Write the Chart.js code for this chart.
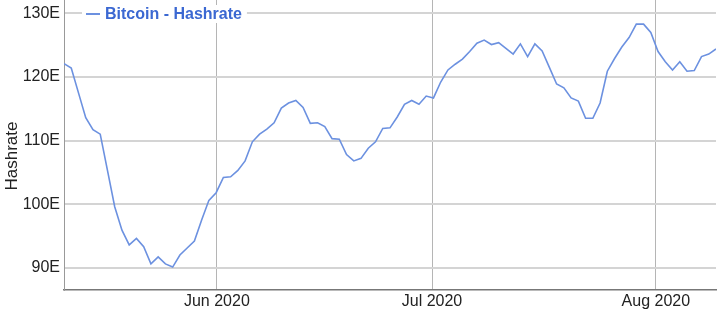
<!DOCTYPE html>
<html>
<head>
<meta charset="utf-8">
<script src="https://cdn.jsdelivr.net/npm/chart.js@4/dist/chart.umd.min.js"></script>
<style>
  html, body { margin: 0; padding: 0; background: #fff; }
  #wrap { width: 720px; height: 313px; }
</style>
</head>
<body>
<div id="wrap"><canvas id="hashrate-chart"></canvas></div>
<script>
// daily values from May 11 2020 (day 0) to Aug 9 2020 (day 90), in EH/s
const hashrate = [
    122.1, 121.4, 117.5, 113.6, 111.7, 111.0, 105.3, 99.6, 95.9, 93.6,
    94.6, 93.3, 90.6, 91.7, 90.6, 90.1, 92.0, 93.1, 94.2, 97.5,
    100.6, 101.8, 104.2, 104.3, 105.3, 106.8, 109.8, 111.0, 111.8, 112.8,
    115.1, 115.9, 116.3, 115.2, 112.7, 112.8, 112.2, 110.3, 110.2, 107.8,
    106.8, 107.2, 108.8, 109.8, 111.9, 112.0, 113.7, 115.7, 116.3, 115.7,
    117.0, 116.7, 119.2, 121.1, 122.0, 122.8, 124.0, 125.3, 125.8, 125.1,
    125.4, 124.5, 123.6, 125.2, 123.2, 125.2, 124.1, 121.5, 118.9, 118.3,
    116.7, 116.2, 113.5, 113.5, 115.9, 120.9, 122.9, 124.7, 126.2, 128.3,
    128.3, 127.0, 124.0, 122.4, 121.1, 122.4, 120.9, 121.0, 123.2, 123.6,
    124.4
];
const days = hashrate.map((v, i) => i);

// month ticks, as day offsets from the first point
const monthTickDays = [21.1, 50.8, 81.7];
const monthTickLabels = ["Jun 2020", "Jul 2020", "Aug 2020"];
const yTickValues = [90, 100, 110, 120, 130];

const seriesLabel = "Bitcoin - Hashrate";
const lineColor = "#6c91e0";
const legendColor = "#3b68d2";
const font = "'Liberation Sans', Arial, sans-serif";

const overlayText = {
    id: "overlayText",
    afterDraw(chart) {
        const c = chart.ctx;
        const area = chart.chartArea;
        c.save();
        // axis title
        c.fillStyle = "#222";
        c.font = "17px " + font;
        c.textAlign = "center";
        c.textBaseline = "middle";
        c.translate(12, 156);
        c.rotate(-Math.PI / 2);
        c.fillText("Hashrate", 0, 0);
        c.restore();

        // legend box on top of the plot
        c.save();
        c.font = "bold 16px " + font;
        const w = c.measureText(seriesLabel).width;
        const x0 = area.left + 21;
        const y0 = 14;
        c.fillStyle = "#fff";
        c.fillRect(x0 - 3, y0 - 9, w + 28, 18);
        c.strokeStyle = lineColor;
        c.lineWidth = 2;
        c.beginPath();
        c.moveTo(x0 + 1, y0);
        c.lineTo(x0 + 15, y0);
        c.stroke();
        c.fillStyle = legendColor;
        c.textBaseline = "middle";
        c.fillText(seriesLabel, x0 + 20, y0 + 1);
        c.restore();
    }
};

const ctx = document.getElementById("hashrate-chart").getContext("2d");
const chart = new Chart(ctx, {
    type: "line",
    data: {
        labels: days,
        datasets: [{
            label: seriesLabel,
            data: days.map((d, i) => ({x: d, y: hashrate[i]})),
            borderColor: lineColor,
            borderWidth: 1.6,
            pointRadius: 0,
            tension: 0,
            fill: false,
        }]
    },
    options: {
        responsive: true,
        maintainAspectRatio: false,
        animation: false,
        layout: {padding: {left: 0, right: 4, top: 0, bottom: 0}},
        plugins: {legend: {display: false}, tooltip: {enabled: false}},
        scales: {
            x: {
                type: "linear",
                min: 0,
                max: 90,
                afterBuildTicks: s => { s.ticks = monthTickDays.map(v => ({value: v})); },
                afterFit: s => { s.height = 23; s.paddingLeft = 0; s.paddingRight = 0; },
                ticks: {
                    callback: (v, i) => monthTickLabels[i],
                    color: "#222",
                    font: {family: font, size: 16},
                    padding: 2,
                    maxRotation: 0,
                    autoSkip: false,
                },
                grid: {color: "#b5b5b5", lineWidth: 1, drawTicks: false},
                border: {display: true, color: "#777", width: 1.5},
            },
            y: {
                min: 86.5,
                max: 132.1,
                afterBuildTicks: s => { s.ticks = yTickValues.map(v => ({value: v})); },
                afterFit: s => { s.width = 64; s.paddingTop = 0; s.paddingBottom = 0; },
                ticks: {
                    callback: v => v + "E",
                    color: "#222",
                    font: {family: font, size: 16},
                    padding: 4,
                },
                grid: {color: "#d4d4d4", lineWidth: 2, drawTicks: false},
                border: {display: true, color: "#999", width: 1},
            },
        },
    },
    plugins: [overlayText],
});
</script>
</body>
</html>
